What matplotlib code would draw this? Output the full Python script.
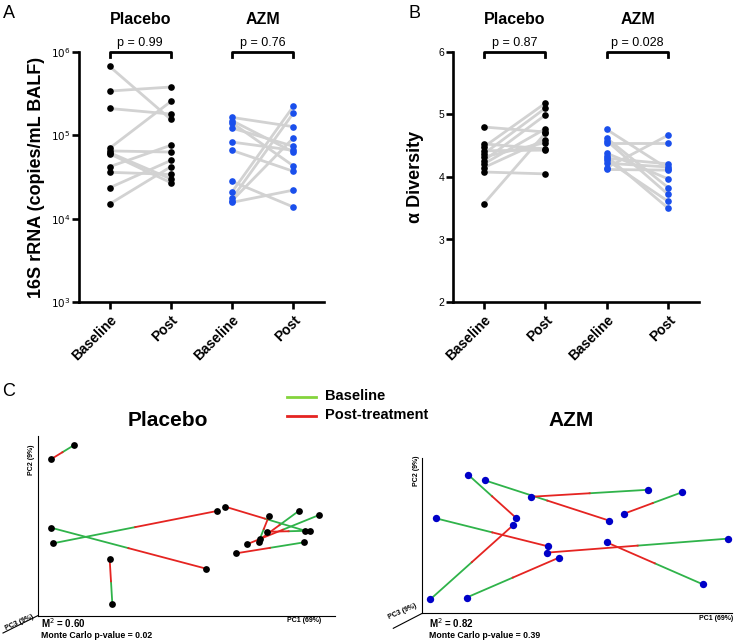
import matplotlib
matplotlib.use('Agg')
import matplotlib.pyplot as plt
from matplotlib.lines import Line2D
from matplotlib.ticker import NullLocator

plt.rcParams['font.family'] = ['Liberation Sans', 'DejaVu Sans']

# ---- data ----
group_names = ['Placebo', 'AZM']
time_labels = ['Baseline', 'Post', 'Baseline', 'Post']

# A: 16S rRNA (copies/mL BALF), paired baseline -> post
rrna_placebo_base = [6.7e5, 3.4e5, 2.1e5, 7.0e4, 6.5e4, 6.2e4, 6.0e4, 4.2e4, 3.6e4, 2.35e4, 1.5e4]
rrna_placebo_post = [1.55e5, 3.8e5, 1.8e5, 2.55e5, 6.3e4, 3.0e4, 2.7e4, 7.6e4, 3.4e4, 5.0e4, 4.2e4]
rrna_azm_base = [1.64e5, 1.5e5, 1.41e5, 1.22e5, 8.3e4, 6.6e4, 2.8e4, 2.1e4, 1.75e4, 1.65e4, 1.57e4]
rrna_azm_post = [1.27e5, 6.3e4, 4.3e4, 7.4e4, 6.6e4, 3.7e4, 1.38e4, 2.23e5, 1.85e5, 9.3e4, 2.2e4]
rrna_pvalues = ['p = 0.99', 'p = 0.76']

# B: alpha diversity
div_placebo_base = [4.80, 4.53, 4.48, 4.42, 4.37, 4.32, 4.26, 4.21, 4.15, 4.08, 3.57]
div_placebo_post = [4.72, 4.45, 5.18, 4.43, 5.10, 4.55, 4.99, 4.77, 4.60, 4.05, 4.70]
div_azm_base = [4.76, 4.62, 4.58, 4.55, 4.38, 4.33, 4.30, 4.27, 4.22, 4.15, 4.12]
div_azm_post = [4.13, 3.83, 3.72, 4.55, 3.97, 3.50, 4.21, 3.61, 4.16, 4.67, 4.11]
div_pvalues = ['p = 0.87', 'p = 0.028']

# C: PCoA coordinates (PC1, PC2 in % of plotted range)
pc_placebo_base_x = [12.3, 4.4, 5.2, 25.1, 89.9, 87.9, 94.6, 91.6, 74.3, 89.5]
pc_placebo_base_y = [95.0, 49.0, 40.3, 6.7, 47.3, 58.4, 56.0, 47.3, 41.0, 40.8]
pc_placebo_post_x = [4.4, 56.6, 60.4, 24.2, 63.0, 74.8, 70.3, 77.2, 77.8, 66.7]
pc_placebo_post_y = [87.0, 26.2, 58.3, 31.6, 60.7, 42.5, 39.7, 46.7, 55.5, 34.7]

pc_azm_base_x = [14.9, 20.3, 73.1, 83.8, 4.5, 2.6, 14.3, 98.9, 90.7]
pc_azm_base_y = [88.9, 85.4, 79.4, 77.7, 61.0, 9.0, 10.1, 48.0, 18.6]
pc_azm_post_x = [30.2, 60.5, 35.1, 65.2, 40.7, 29.4, 44.2, 40.3, 59.6]
pc_azm_post_y = [61.5, 59.5, 74.9, 64.0, 43.0, 56.7, 35.8, 39.0, 45.6]

stats_placebo = ['M$^2$ = 0.60', 'Monte Carlo p-value = 0.02']
stats_azm = ['M$^2$ = 0.82', 'Monte Carlo p-value = 0.39']

W, H = 734, 642
fig = plt.figure(figsize=(W / 100, H / 100), dpi=100)


def box(x0, y0, x1, y1):
    return [x0 / W, 1 - y1 / H, (x1 - x0) / W, (y1 - y0) / H]


def fx(x):
    return x / W


def fy(y):
    return 1 - y / H


blue = '#1a4fec'
gray = '#d2d2d2'


def paired_panel(ax, data, pvals):
    colors = ['black', blue]
    for i, (base, post) in enumerate(data):
        xb, xp = 2 * i, 2 * i + 1
        for b, p in zip(base, post):
            ax.plot([xb, xp], [b, p], color=gray, lw=2, zorder=1)
        ax.scatter([xb] * len(base), base, s=23, color=colors[i], zorder=3, linewidths=0)
        ax.scatter([xp] * len(post), post, s=23, color=colors[i], zorder=3, linewidths=0)
        tr = ax.get_xaxis_transform()
        ax.plot([xb, xb, xp, xp], [0.98, 1.0, 1.0, 0.98], color='black', lw=2,
                transform=tr, clip_on=False)
        ax.text((xb + xp) / 2, 1.012, pvals[i], transform=tr, ha='center', va='bottom',
                fontsize=9)
        ax.text((xb + xp) / 2, 1.128, group_names[i], transform=tr, ha='center',
                va='center', fontsize=11.5, fontweight='bold')
    ax.set_xlim(-0.5, 3.5)
    ax.set_xticks(range(4))
    ax.set_xticklabels(time_labels, rotation=45, ha='right', rotation_mode='anchor',
                       fontsize=10, fontweight='bold')
    for s in ['top', 'right']:
        ax.spines[s].set_visible(False)
    for s in ['left', 'bottom']:
        ax.spines[s].set_linewidth(1.9)
    ax.tick_params(axis='both', direction='out', length=5, width=1.9)
    ax.tick_params(axis='y', labelsize=7.5, pad=1)
    ax.tick_params(axis='x', pad=3)


# ---- A ----
axA = fig.add_axes(box(79, 52, 324, 302))
paired_panel(axA, [(rrna_placebo_base, rrna_placebo_post), (rrna_azm_base, rrna_azm_post)],
             rrna_pvalues)
axA.set_yscale('log')
axA.set_ylim(1e3, 1e6)
axA.set_yticks([1e3, 1e4, 1e5, 1e6])
axA.set_yticklabels([r'$10^{3}$', r'$10^{4}$', r'$10^{5}$', r'$10^{6}$'])
axA.yaxis.set_minor_locator(NullLocator())
axA.set_ylabel('16S rRNA (copies/mL BALF)', fontsize=13, fontweight='bold')
axA.yaxis.set_label_coords(-0.14, 0.5)

# ---- B ----
axB = fig.add_axes(box(453, 52, 699, 302))
paired_panel(axB, [(div_placebo_base, div_placebo_post), (div_azm_base, div_azm_post)],
             div_pvalues)
axB.set_ylim(2, 6)
axB.set_yticks([2, 3, 4, 5, 6])
axB.set_ylabel('α Diversity', fontsize=13, fontweight='bold')
axB.yaxis.set_label_coords(-0.117, 0.5)

fig.text(fx(9), fy(14), 'A', fontsize=13, ha='center', va='center')
fig.text(fx(414), fy(14), 'B', fontsize=13, ha='center', va='center')
fig.text(fx(8.5), fy(391), 'C', fontsize=13, ha='center', va='center')

# ---- C ----
green = '#2fb34a'
red = '#e52421'


def pcoa_panel(ax, bx, by, px, py, dot_color, dot_size, corner, diag_end,
               pc_pos, stats, stats_x):
    for x0, y0, x1, y1 in zip(bx, by, px, py):
        mx, my = (x0 + x1) / 2, (y0 + y1) / 2
        ax.plot([x0, mx], [y0, my], color=green, lw=1.3, zorder=1)
        ax.plot([mx, x1], [my, y1], color=red, lw=1.3, zorder=1)
    ax.scatter(bx + px, by + py, s=dot_size, color=dot_color, zorder=3, linewidths=0,
               clip_on=False)
    ax.set_xlim(0, 100)
    ax.set_ylim(0, 100)
    ax.set_xticks([])
    ax.set_yticks([])
    for s in ['top', 'right']:
        ax.spines[s].set_visible(False)
    for s in ['left', 'bottom']:
        ax.spines[s].set_linewidth(0.8)
    fig.add_artist(Line2D([fx(corner[0]), fx(diag_end[0])], [fy(corner[1]), fy(diag_end[1])],
                          color='black', lw=0.8, transform=fig.transFigure))
    (p2x, p2y), (p1x, p1y), (p3x, p3y) = pc_pos
    fig.text(fx(p2x), fy(p2y), 'PC2 (9%)', rotation=90, fontsize=5, ha='center',
             va='center', fontweight='bold')
    fig.text(fx(p1x), fy(p1y), 'PC1 (69%)', fontsize=5, ha='center', va='center',
             fontweight='bold')
    fig.text(fx(p3x), fy(p3y), 'PC3 (9%)', rotation=24, fontsize=5, ha='center',
             va='center', fontweight='bold')
    fig.text(fx(stats_x), fy(623.5), stats[0], fontsize=7, fontweight='bold',
             ha='left', va='center')
    fig.text(fx(stats_x), fy(635.5), stats[1], fontsize=6.3, fontweight='bold',
             ha='left', va='center')


axCp = fig.add_axes(box(37.7, 436, 335, 615.7))
pcoa_panel(axCp, pc_placebo_base_x, pc_placebo_base_y, pc_placebo_post_x, pc_placebo_post_y,
           'black', 24, (37.7, 615.7), (3, 633),
           [(31.5, 460), (304, 620.7), (19, 623)], stats_placebo, 41)

axCa = fig.add_axes(box(422.3, 457.7, 731.7, 613.3))
pcoa_panel(axCa, pc_azm_base_x, pc_azm_base_y, pc_azm_post_x, pc_azm_post_y,
           '#0000c8', 28, (422.3, 613.3), (393.3, 628.3),
           [(416.5, 471), (716, 618.5), (402, 612)], stats_azm, 429.3)

fig.text(fx(168), fy(421), 'Placebo', fontsize=15, fontweight='bold', ha='center', va='center')
fig.text(fx(571), fy(421), 'AZM', fontsize=15, fontweight='bold', ha='center', va='center')

# legend
fig.add_artist(Line2D([fx(287), fx(316)], [fy(396.7), fy(396.7)], color='#84d43c', lw=2,
                      transform=fig.transFigure))
fig.add_artist(Line2D([fx(287), fx(316)], [fy(416), fy(416)], color=red, lw=2,
                      transform=fig.transFigure))
fig.text(fx(325), fy(396), 'Baseline', fontsize=10.5, fontweight='bold', va='center')
fig.text(fx(325), fy(415), 'Post-treatment', fontsize=10.5, fontweight='bold', va='center')

fig.savefig('out.png', dpi=100)
